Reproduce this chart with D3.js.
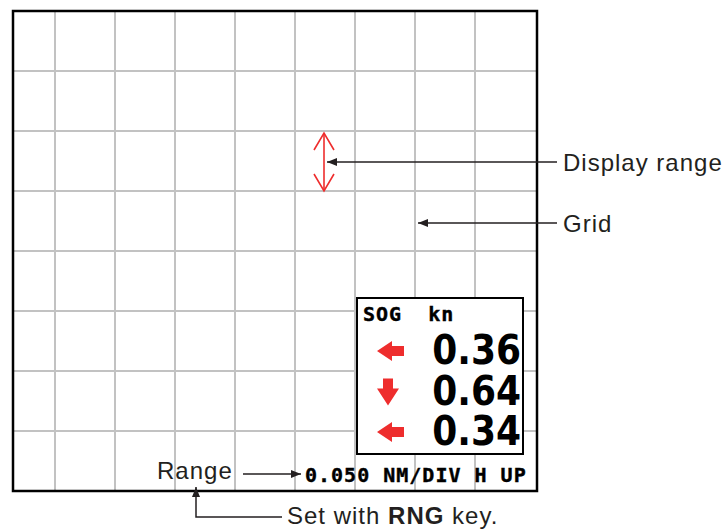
<!DOCTYPE html>
<html>
<head>
<meta charset="utf-8">
<script src="https://cdn.jsdelivr.net/npm/d3@7"></script>
<style>
  body { margin: 0; background: #fff; }
  .note { font-family: Arial, "Liberation Sans", sans-serif; font-size: 24px; letter-spacing: 1px; fill: #231f20; }
  .lcd { font-family: "DejaVu Sans Mono", monospace; font-weight: bold; font-size: 20px; letter-spacing: 1px; fill: #000; stroke: #000; stroke-width: 0.4px; }
  .big { font-family: "DejaVu Sans Condensed", "DejaVu Sans", sans-serif; font-stretch: condensed; font-weight: bold; font-size: 40px; fill: #000; }
</style>
</head>
<body>
<div id="chart"></div>
<script>
// grid divisions (index of each line)
const vGridDivs = [0, 1, 2, 3, 4, 5, 6, 7]
const hGridDivs = [1, 2, 3, 4, 5, 6, 7]

// SOG readout
const sogTitle = "SOG  kn"
const sogValues = ["0.36", "0.64", "0.34"]
const sogDirections = ["left", "down", "left"]

// range line + callouts
const rangeText = "0.050 NM/DIV H UP"
const calloutLabels = ["Display range", "Grid"]
const rangeLabel = "Range"
const keyNote = ["Set with ", "RNG", " key."]

const width = 727, height = 530
const red = "#ee2d2d", ink = "#231f20"

const svg = d3.select("#chart").append("svg")
    .attr("width", width)
    .attr("height", height)

const defs = svg.append("defs")
defs.append("marker") // filled black arrow head
    .attr("id", "head")
    .attr("viewBox", "0 0 10 8")
    .attr("refX", 10).attr("refY", 4)
    .attr("markerWidth", 10).attr("markerHeight", 8)
    .attr("markerUnits", "userSpaceOnUse")
    .attr("orient", "auto")
    .append("path")
    .attr("d", "M0,0 L10,4 L0,8 Z")
    .attr("fill", ink)

// x: one division = 60px, y: 8 divisions over the frame height
let x = d3.scaleLinear().domain([0, 1]).range([55, 115])
let y = d3.scaleLinear().domain([0, 8]).range([11, 491])

const frameL = 13, frameR = 537

// grid
svg.append("g").selectAll("line").data(vGridDivs).enter()
    .append("line")
    .attr("x1", d => x(d)).attr("x2", d => x(d))
    .attr("y1", y(0)).attr("y2", y(8))
    .attr("stroke", "#c2c2c2").attr("stroke-width", 2)
svg.append("g").selectAll("line").data(hGridDivs).enter()
    .append("line")
    .attr("x1", frameL).attr("x2", frameR)
    .attr("y1", d => y(d)).attr("y2", d => y(d))
    .attr("stroke", "#c2c2c2").attr("stroke-width", 2)

// frame
svg.append("rect")
    .attr("x", frameL).attr("y", y(0))
    .attr("width", frameR - frameL).attr("height", y(8) - y(0))
    .attr("fill", "none").attr("stroke", "#000").attr("stroke-width", 2.5)

// display range marker (red double arrow, spans one division)
const drX = 324, drTop = y(2) + 2, drBot = y(3)
const dr = svg.append("g").attr("stroke", red).attr("stroke-width", 1.6).attr("fill", "none")
dr.append("line").attr("x1", drX).attr("x2", drX).attr("y1", drTop).attr("y2", drBot)
dr.append("path").attr("d", `M${drX - 10},${drTop + 17} L${drX},${drTop} L${drX + 10},${drTop + 17}`)
dr.append("path").attr("d", `M${drX - 10},${drBot - 17} L${drX},${drBot} L${drX + 10},${drBot - 17}`)

// callouts on the right
const callY = [162, 223]
const callX = [327, 418]
calloutLabels.forEach((lab, i) => {
    svg.append("line")
        .attr("x1", 557).attr("x2", callX[i])
        .attr("y1", callY[i]).attr("y2", callY[i])
        .attr("stroke", ink).attr("stroke-width", 1.5)
        .attr("marker-end", "url(#head)")
    svg.append("text")
        .attr("class", "note")
        .attr("x", 563).attr("y", callY[i] + 9)
        .text(lab)
})

// SOG box
const box = { x: 357, y: 298, w: 166, h: 156 }
svg.append("rect")
    .attr("x", box.x).attr("y", box.y)
    .attr("width", box.w).attr("height", box.h)
    .attr("fill", "#fff").attr("stroke", "#000").attr("stroke-width", 2)

svg.append("text").attr("class", "lcd")
    .attr("x", 363).attr("y", 321)
    .style("white-space", "pre")
    .text(sogTitle)

let rowY = d3.scalePoint().domain(d3.range(sogValues.length)).range([349, 430])

svg.append("g").selectAll("text").data(sogValues).enter()
    .append("text")
    .attr("class", "big")
    .attr("text-anchor", "end")
    .attr("x", 521)
    .attr("y", (d, i) => rowY(i) + 15)
    .text(d => d)

const arrowPath = {
    left: "M-11,0 L4,-10 L4,-5 L16,-5 L16,5 L4,5 L4,10 Z",
    down: "M0,14 L-11,-3 L-5,-3 L-5,-13 L5,-13 L5,-3 L11,-3 Z"
}
svg.append("g").selectAll("path").data(sogDirections).enter()
    .append("path")
    .attr("transform", (d, i) => `translate(388,${rowY(i) + 2})`)
    .attr("d", d => arrowPath[d])
    .attr("fill", red)

// range text along the bottom
svg.append("text").attr("class", "lcd")
    .attr("x", 305).attr("y", 482)
    .text(rangeText)

svg.append("text").attr("class", "note")
    .attr("x", 157).attr("y", 479)
    .text(rangeLabel)
svg.append("line")
    .attr("x1", 243).attr("x2", 301)
    .attr("y1", 474).attr("y2", 474)
    .attr("stroke", ink).attr("stroke-width", 1.5)
    .attr("marker-end", "url(#head)")

// "Set with RNG key." leader
svg.append("path")
    .attr("d", "M282,517 L196,517 L196,487")
    .attr("fill", "none")
    .attr("stroke", ink).attr("stroke-width", 1.5)
    .attr("marker-end", "url(#head)")

let keyText = svg.append("text").attr("class", "note")
    .attr("x", 287).attr("y", 524)
keyNote.forEach((t, i) => {
    keyText.append("tspan")
        .attr("font-weight", i === 1 ? "bold" : null)
        .style("white-space", "pre")
        .text(t)
})
</script>
</body>
</html>
